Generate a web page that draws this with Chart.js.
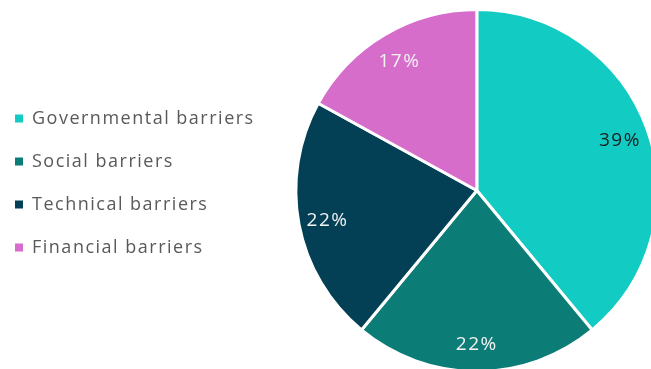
<!DOCTYPE html>
<html>
<head>
<meta charset="utf-8">
<script src="https://cdn.jsdelivr.net/npm/chart.js@4/dist/chart.umd.min.js"></script>
<style>
  html, body { margin: 0; padding: 0; background: #fff; }
  #wrap { width: 651px; height: 369px; overflow: hidden; position: relative; }
  #barriers { position: absolute; left: 0; top: 0; }
</style>
</head>
<body>
<div id="wrap">
  <canvas id="barriers" width="760" height="400"></canvas>
</div>
<script>
const categories = ['Governmental barriers', 'Social barriers', 'Technical barriers', 'Financial barriers'];
const shares = [39, 22, 22, 17];
const sliceColors = ['#12CCC4', '#0C7D76', '#033F55', '#D66DCB'];
const labelColors = ['#1a1a1a', '#f2f2f2', '#f2f2f2', '#f2f2f2'];

// a little extra tracking on all text, set before the legend is measured
const tracking = {
    id: 'tracking',
    beforeUpdate(chart) {
        chart.ctx.letterSpacing = '1.5px';
    }
};

// percentage text placed out toward the rim of each slice
const sliceLabels = {
    id: 'sliceLabels',
    afterDatasetsDraw(chart) {
        const c = chart.ctx;
        const meta = chart.getDatasetMeta(0);
        c.save();
        c.font = '19px "Open Sans"';
        c.textAlign = 'center';
        c.textBaseline = 'middle';
        meta.data.forEach(function(arc, i) {
            const mid = (arc.startAngle + arc.endAngle) / 2;
            const r = arc.outerRadius * 0.84;
            c.fillStyle = labelColors[i];
            c.fillText(shares[i] + '%', arc.x + Math.cos(mid) * r, arc.y + Math.sin(mid) * r + 2);
        });
        c.restore();
    }
};

const canvas = document.getElementById('barriers');
let pieChart = new Chart(canvas, {
    type: 'pie',
    data: {
        labels: categories,
        datasets: [{
            data: shares,
            backgroundColor: sliceColors,
            borderColor: '#ffffff',
            borderWidth: 3
        }]
    },
    options: {
        responsive: false,
        animation: false,
        layout: {
            padding: { top: 8, bottom: 27, left: -10, right: 71 }
        },
        plugins: {
            legend: {
                position: 'left',
                align: 'start',
                title: { display: true, text: '', padding: { top: 0, bottom: 62 } },
                labels: {
                    boxWidth: 8,
                    boxHeight: 8,
                    padding: 25,
                    color: '#595959',
                    font: { family: 'Open Sans', size: 18 },
                    // solid squares, without the white slice border
                    generateLabels(chart) {
                        const items = Chart.overrides.pie.plugins.legend.labels.generateLabels(chart);
                        items.forEach(function(item) {
                            item.lineWidth = 0;
                        });
                        return items;
                    }
                }
            },
            tooltip: { enabled: false }
        }
    },
    plugins: [tracking, sliceLabels]
});
</script>
</body>
</html>
